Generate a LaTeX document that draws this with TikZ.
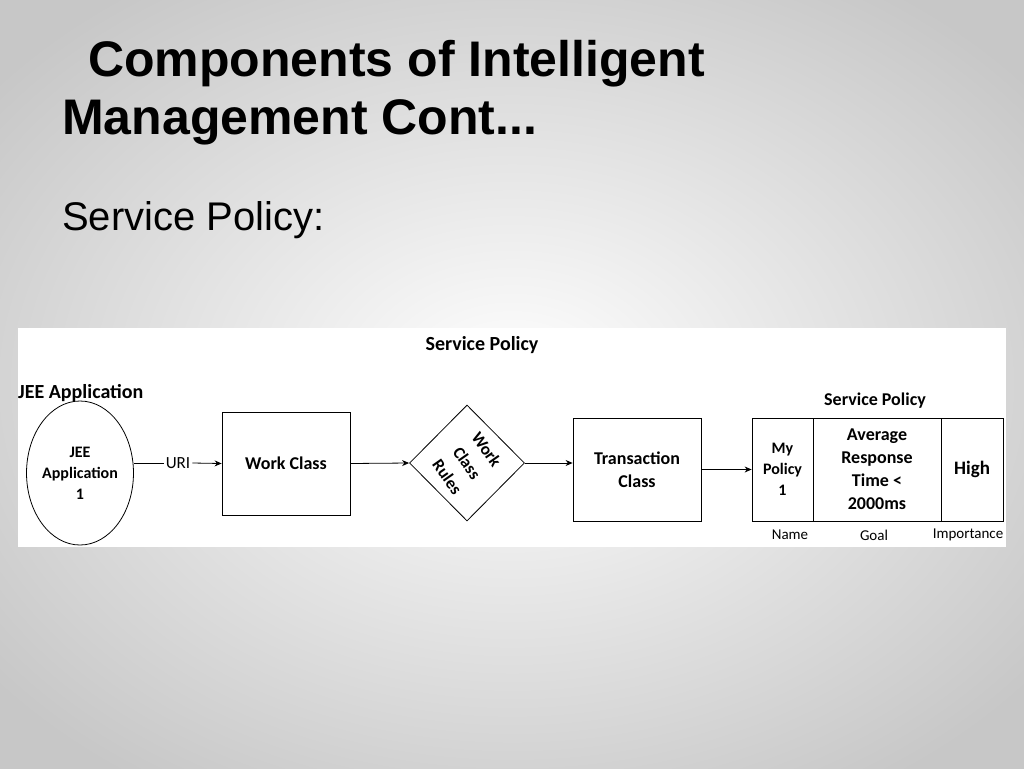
\documentclass[tikz,border=0pt]{standalone}
\usepackage{fontspec}
\setmainfont{Liberation Sans}
\newfontfamily\carlito{Carlito}
\usetikzlibrary{shapes.geometric,arrows.meta}
\begin{document}
\begin{tikzpicture}[x=1pt,y=-1pt,
  box/.style={draw,line width=0.8pt,minimum width=128pt,minimum height=103pt,font=\carlito\bfseries\fontsize{18}{23}\selectfont,align=center},
  lbl/.style={font=\carlito\fontsize{15}{17}\selectfont},
  arr/.style={-{Stealth[length=7pt,width=6pt]},line width=0.8pt}]
\useasboundingbox (0,0) rectangle (1024,768);
\shade[inner color=white,outer color=black!22] (-150,-100) rectangle (1174,868);
\fill[white] (18,328) rectangle (1006,547);
\node[anchor=base west,font=\bfseries\fontsize{50}{54}\selectfont,inner sep=0] (t1) at (88,76) {Components of Intelligent};
\node[anchor=base west,font=\bfseries\fontsize{50}{54}\selectfont,inner sep=0] (t2) at (62,134) {Management Cont...};
\node[anchor=base west,font=\fontsize{40}{44}\selectfont,inner sep=0] (t3) at (62,230) {Service Policy:};
\node[font=\carlito\bfseries\fontsize{20}{24}\selectfont] (sp) at (482,345) {Service Policy};
\node[anchor=west,font=\carlito\bfseries\fontsize{20}{24}\selectfont,inner sep=0] (ja) at (18,393) {JEE Application};
\node[draw,ellipse,line width=0.8pt,minimum width=100pt,minimum height=144pt,inner sep=0,align=center,font=\carlito\bfseries\fontsize{16}{21}\selectfont] (app) at (80,473) {JEE\\Application\\1};
\node[font=\carlito\fontsize{17}{19}\selectfont,inner sep=2pt] (uri) at (178,463) {URI};
\node[box] (wc) at (286,463.5) {Work Class};
\node[draw,diamond,line width=0.8pt,minimum width=115pt,minimum height=116pt,inner sep=0] (dm) at (467,463) {};
\node[rotate=-55,align=center,inner sep=0,font=\carlito\bfseries\fontsize{17}{24}\selectfont] (dt) at (dm.center) {Work\\Class\\Rules};
\node[box] (tc) at (637,469.5) {Transaction\\Class};
\node[draw,line width=0.8pt,minimum width=61pt,minimum height=103pt,align=center,font=\carlito\bfseries\fontsize{16}{21}\selectfont] (my) at (782.5,469.5) {My\\Policy\\1};
\node[draw,line width=0.8pt,minimum width=128pt,minimum height=103pt,align=center,font=\carlito\bfseries\fontsize{18}{23}\selectfont] (goal) at (877,469.5) {Average\\Response\\Time <\\2000ms};
\node[draw,line width=0.8pt,minimum width=62pt,minimum height=103pt,font=\carlito\bfseries\fontsize{19}{22}\selectfont] (imp) at (972,469.5) {High};
\node[font=\carlito\bfseries\fontsize{18}{21}\selectfont] (sp2) at (875,401) {Service Policy};
\node[lbl] (n1) at (790,535) {Name};
\node[lbl] (n2) at (874,535) {Goal};
\node[lbl] (n3) at (968,535) {Importance};
\draw[line width=0.8pt] (app.east |- uri.west) -- (uri.west);
\draw[arr] (uri.east) -- (wc.west);
\draw[arr] (wc.east) -- (dm.west);
\draw[arr] (dm.east) -- (tc.west |- dm.east);
\draw[arr] (tc.east) -- (my.west);
\end{tikzpicture}
\end{document}
